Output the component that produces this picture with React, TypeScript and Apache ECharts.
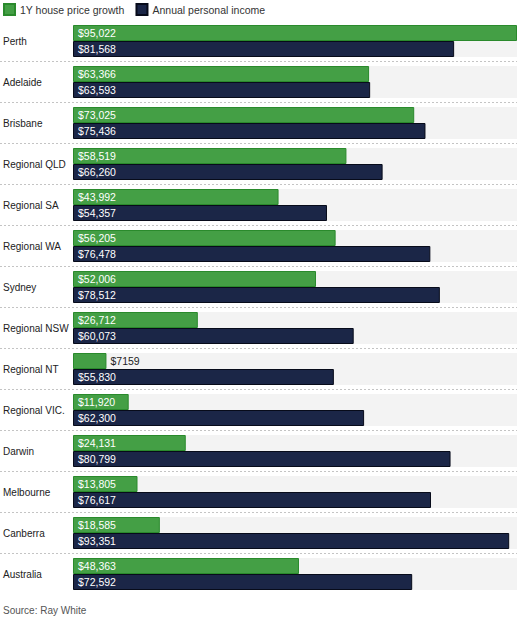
import React, { useEffect, useRef } from "react";
import * as echarts from "echarts";

const regions = [
  "Perth", "Adelaide", "Brisbane", "Regional QLD", "Regional SA", "Regional WA", "Sydney",
  "Regional NSW", "Regional NT", "Regional VIC.", "Darwin", "Melbourne", "Canberra", "Australia",
];
const priceGrowth = [95022, 63366, 73025, 58519, 43992, 56205, 52006, 26712, 7159, 11920, 24131, 13805, 18585, 48363];
const personalIncome = [81568, 63593, 75436, 66260, 54357, 76478, 78512, 60073, 55830, 62300, 80799, 76617, 93351, 72592];
const seriesNames = ["1Y house price growth", "Annual personal income"];

const FONT = "'Liberation Sans', Arial, sans-serif";
const FS = 10.5;
const GREEN = "#449f45";
const NAVY = "#1b2647";

const fmt = (v: number) => (v < 10000 ? "$" + v : "$" + v.toLocaleString("en-US"));

export default function App() {
  const ref = useRef<HTMLDivElement>(null);
  useEffect(() => {
    if (!ref.current) return;
    const chart = echarts.init(ref.current, null, { renderer: "svg" });
    const maxVal = Math.max(...priceGrowth, ...personalIncome);
    const barLabel = {
      show: true,
      position: "insideLeft",
      distance: 5,
      color: "#ffffff",
      fontFamily: FONT,
      fontSize: FS,
      formatter: (p: any) => fmt(p.value),
    };
    chart.setOption({
      animation: false,
      textStyle: { fontFamily: FONT },
      legend: {
        left: 3,
        top: 3,
        padding: 0,
        itemWidth: 11,
        itemHeight: 11,
        itemGap: 11,
        textStyle: { fontSize: FS, color: "#333", fontFamily: FONT },
        data: seriesNames.map((n) => ({ name: n, icon: "rect" })),
      },
      grid: { left: 73, right: 0, top: 20.5, height: 574, containLabel: false },
      xAxis: { type: "value", min: 0, max: maxVal, show: false },
      yAxis: {
        type: "category",
        data: regions,
        inverse: true,
        axisLine: { show: false },
        axisTick: { show: false },
        splitLine: { show: false },
        axisLabel: { align: "left", margin: 70, color: "#222", fontSize: 10, fontFamily: FONT },
      },
      series: [
        {
          name: seriesNames[0],
          type: "bar",
          barWidth: 16,
          barGap: 0,
          data: priceGrowth.map((v) =>
            v < 10000
              ? { value: v, label: { position: "right", color: "#222", distance: 4 } }
              : v
          ),
          itemStyle: { color: GREEN, borderColor: "#2a8a2c", borderWidth: 1 },
          showBackground: true,
          backgroundStyle: { color: "#f3f3f3" },
          label: barLabel,
        },
        {
          name: seriesNames[1],
          type: "bar",
          barWidth: 16,
          barGap: 0,
          data: personalIncome,
          itemStyle: { color: NAVY, borderColor: "#070b1a", borderWidth: 1 },
          showBackground: true,
          backgroundStyle: { color: "#f3f3f3" },
          label: barLabel,
        },
        {
          type: "custom",
          silent: true,
          data: regions.map((_, i) => [0, i]),
          encode: { x: 0, y: 1 },
          renderItem: (params: any, api: any) => {
            const idx = api.value(1);
            if (idx >= regions.length - 1) return null;
            const y = api.coord([0, idx])[1] + api.size([0, 1])[1] / 2;
            return {
              type: "line",
              shape: { x1: 0, y1: y, x2: 517, y2: y },
              style: { stroke: "#c4c4c4", lineWidth: 1, lineDash: [2, 2] },
            };
          },
        },
      ],
      graphic: [
        {
          type: "text",
          left: 3,
          top: 605,
          style: { text: "Source: Ray White", fill: "#555", fontSize: 10, fontFamily: FONT },
        },
      ],
    });
    return () => chart.dispose();
  }, []);
  return <div ref={ref} style={{ width: 517, height: 620, position: "absolute", left: 0, top: 0 }} />;
}
